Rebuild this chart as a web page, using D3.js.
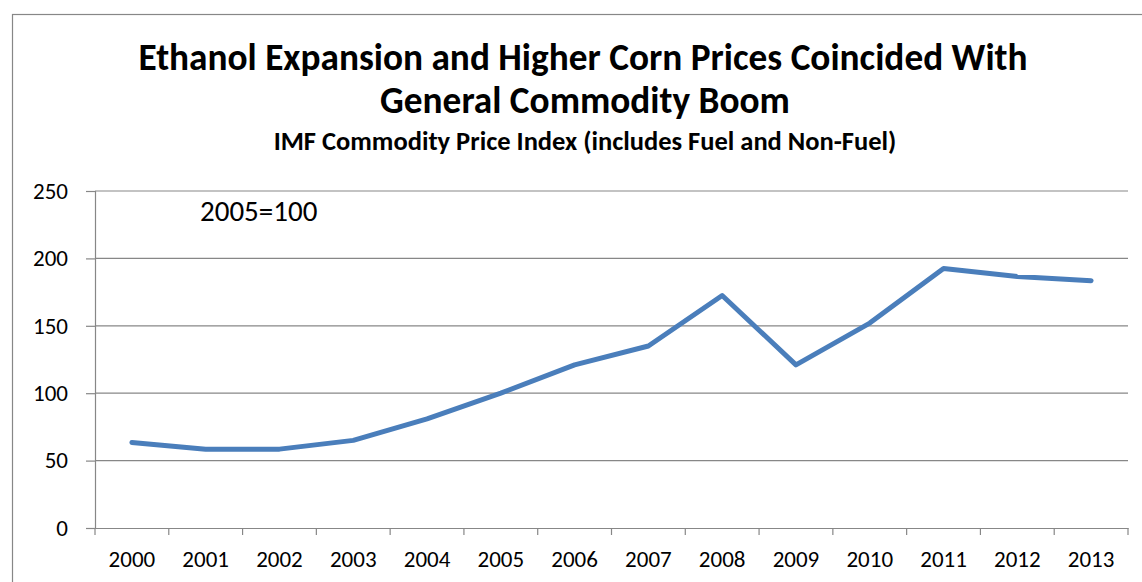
<!DOCTYPE html>
<html>
<head>
<meta charset="utf-8">
<script src="https://cdn.jsdelivr.net/npm/d3@7"></script>
<style>
  html, body { margin: 0; padding: 0; background: #fff; }
  svg { display: block; font-family: Carlito, Calibri, Lato, sans-serif; }
</style>
</head>
<body>
<svg id="chart" width="1142" height="582"></svg>
<script>
// IMF commodity price index, all commodities (2005 = 100)
const years = ["2000","2001","2002","2003","2004","2005","2006","2007","2008","2009","2010","2011","2012","2013"];
const indexValues = [63.5, 58.5, 58.5, 65, 81, 100, 121, 135, 172.5, 121, 152, 192.5, 186.5, 183.5];
const yTicks = [0, 50, 100, 150, 200, 250];

const titleLines = ["Ethanol Expansion and Higher Corn Prices Coincided With", "General Commodity Boom"];
const subtitle = "IMF Commodity Price Index (includes Fuel and Non-Fuel)";
const baseNote = "2005=100";

const svg = d3.select("#chart");
const gridColor = "#878787";
const lineColor = "#4A7EBB";
const fontStack = "Carlito, Calibri, Lato, sans-serif";

// chart frame
svg.append("rect")
  .attr("x", 12.5).attr("y", 14.5)
  .attr("width", 1142).attr("height", 600)
  .attr("fill", "none").attr("stroke", gridColor).attr("stroke-width", 1.2);

const plot = { left: 95, right: 1128, top: 191, bottom: 528 };

const x = d3.scaleBand().domain(years).range([plot.left, plot.right]).padding(0);
const y = d3.scaleLinear().domain([0, 250]).range([plot.bottom, plot.top]);

// titles
svg.append("text")
  .attr("x", 583).attr("y", 70)
  .attr("text-anchor", "middle")
  .attr("font-weight", "bold").attr("font-size", 37.3)
  .text(titleLines[0]);
svg.append("text")
  .attr("x", 585).attr("y", 113)
  .attr("text-anchor", "middle")
  .attr("font-weight", "bold").attr("font-size", 37.3)
  .text(titleLines[1]);
svg.append("text")
  .attr("x", 585).attr("y", 150)
  .attr("text-anchor", "middle")
  .attr("font-weight", "bold").attr("font-size", 26.5)
  .text(subtitle);

// horizontal gridlines
svg.append("g")
  .selectAll("line")
  .data(yTicks.filter(d => d > 0))
  .join("line")
  .attr("x1", plot.left).attr("x2", plot.right)
  .attr("y1", d => y(d)).attr("y2", d => y(d))
  .attr("stroke", gridColor).attr("stroke-width", 1.2);

// y axis
const yAxis = svg.append("g")
  .attr("transform", `translate(${plot.left},0)`)
  .call(d3.axisLeft(y).tickValues(yTicks).tickSize(9).tickPadding(18));
yAxis.select(".domain").attr("stroke", gridColor).attr("stroke-width", 1.2);
yAxis.selectAll(".tick line").attr("stroke", gridColor).attr("stroke-width", 1.2);
yAxis.selectAll(".tick text")
  .attr("font-family", fontStack)
  .attr("font-size", 23).attr("fill", "#000");

// x axis: labels centred in bands, ticks on band boundaries
const xAxis = svg.append("g")
  .attr("transform", `translate(0,${plot.bottom})`)
  .call(d3.axisBottom(x).tickSize(0));
xAxis.select(".domain").attr("stroke", gridColor).attr("stroke-width", 1.2);
xAxis.selectAll(".tick text")
  .attr("font-family", fontStack)
  .attr("font-size", 23).attr("fill", "#000")
  .attr("y", 38.5).attr("dy", 0);

const boundaries = years.map(d => x(d)).concat([x.range()[1]]);
svg.append("g")
  .selectAll("line")
  .data(boundaries)
  .join("line")
  .attr("x1", d => d).attr("x2", d => d)
  .attr("y1", plot.bottom).attr("y2", plot.bottom + 7)
  .attr("stroke", gridColor).attr("stroke-width", 1.2);

// base-year note
svg.append("text")
  .attr("x", 200).attr("y", 221)
  .attr("font-size", 29)
  .text(baseNote);

// series line
const line = d3.line()
  .x((d, i) => x(years[i]) + x.bandwidth() / 2)
  .y(d => y(d));

svg.append("path")
  .datum(indexValues)
  .attr("d", line)
  .attr("fill", "none")
  .attr("stroke", lineColor)
  .attr("stroke-width", 5)
  .attr("stroke-linejoin", "round")
  .attr("stroke-linecap", "round");
</script>
</body>
</html>
